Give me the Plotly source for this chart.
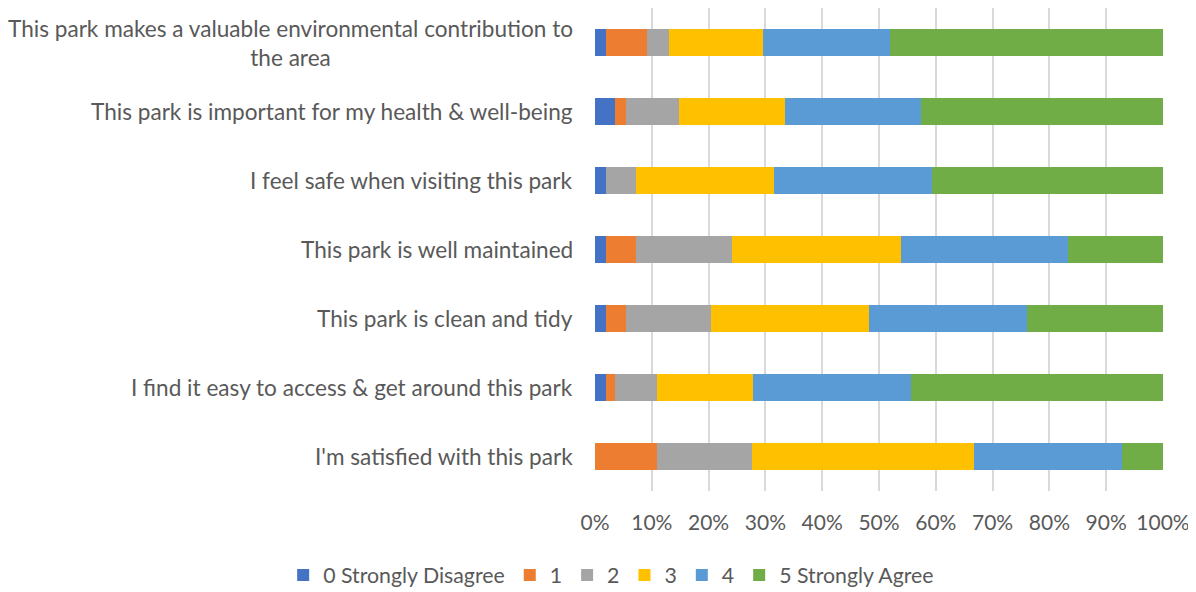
import plotly.graph_objects as go

categories = [
    "This park makes a valuable environmental contribution to<br>the area",
    "This park is important for my health & well-being",
    "I feel safe when visiting this park",
    "This park is well maintained",
    "This park is clean and tidy",
    "I find it easy to access & get around this park",
    "I'm satisfied with this park",
]
series_names = ["0 Strongly Disagree", "1", "2", "3", "4", "5 Strongly Agree"]
s0 = [1.9, 3.6, 1.9, 1.9, 1.9, 1.9, 0.0]
s1 = [7.3, 1.9, 0.0, 5.4, 3.6, 1.7, 11.0]
s2 = [3.8, 9.3, 5.4, 16.8, 14.9, 7.4, 16.7]
s3 = [16.6, 18.6, 24.2, 29.7, 27.8, 16.8, 39.1]
s4 = [22.4, 24.0, 27.9, 29.5, 27.8, 27.8, 25.9]
s5 = [48.0, 42.6, 40.6, 16.7, 24.0, 44.4, 7.3]
colors = ["#4472C4", "#ED7D31", "#A5A5A5", "#FFC000", "#5B9BD5", "#70AD47"]
x_ticks = [0, 10, 20, 30, 40, 50, 60, 70, 80, 90, 100]

FONT = "Lato"
TXT = "#595959"

fig = go.Figure()
for name, vals, col in zip(series_names, [s0, s1, s2, s3, s4, s5], colors):
    fig.add_trace(go.Bar(
        y=list(range(len(categories))), x=vals, name=name, orientation="h",
        marker=dict(color=col, line=dict(width=0)),
    ))

for i, c in enumerate(categories):
    fig.add_annotation(
        xref="paper", yref="y", x=0, y=i, xshift=-20, xanchor="right",
        text=c, showarrow=False, align="center",
        font=dict(family=FONT, size=22.6, color=TXT),
    )

fig.update_layout(
    barmode="stack", bargap=0.6,
    width=1196, height=592,
    margin=dict(l=587, r=41, t=0, b=109, autoexpand=False),
    paper_bgcolor="white", plot_bgcolor="white",
    font=dict(family=FONT, size=21, color=TXT),
    legend=dict(orientation="h", xref="paper", x=-0.549, xanchor="left",
                yref="paper", y=-0.174, yanchor="middle",
                font=dict(family=FONT, size=21.3, color=TXT), traceorder="normal"),
    xaxis=dict(range=[0, 100], tickvals=x_ticks, ticktext=[f"{v}%" for v in x_ticks],
               showgrid=True, gridcolor="#D9D9D9", gridwidth=1.5, zeroline=False,
               showline=False, ticks="outside", ticklen=13, tickcolor="rgba(0,0,0,0)",
               automargin=False,
               tickfont=dict(family=FONT, size=21, color=TXT)),
    yaxis=dict(range=[len(categories) - 0.5, -0.5], showticklabels=False,
               showgrid=False, zeroline=False, showline=False, automargin=False),
)

fig.write_html("out.html")
